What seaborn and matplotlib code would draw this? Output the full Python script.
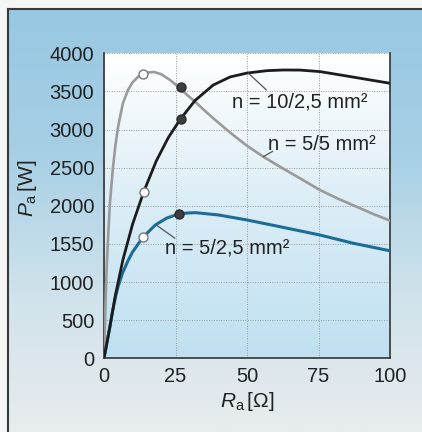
import numpy as np
import pandas as pd
import seaborn as sns
import matplotlib.pyplot as plt
from matplotlib.colors import LinearSegmentedColormap

# curve n = 5/5 mm2 (grey)
r_55 = [0, 0.5, 1, 2, 3, 4, 5, 6.6, 8.4, 10, 12, 13.6, 15.5, 17.5, 20, 23.1, 26.6, 29, 31.8, 35, 38.2,
        44.1, 49.9, 55.7, 61.5, 68.5, 75.5, 82, 88.3, 94, 100]
p_55 = [0, 700, 1250, 2000, 2450, 2800, 3050, 3344, 3519, 3620, 3695, 3725, 3748, 3755, 3725, 3650, 3541,
        3455, 3366, 3255, 3148, 2960, 2790, 2644, 2513, 2361, 2207, 2090, 1988, 1895, 1805]

# curve n = 10/2,5 mm2 (black)
r_10 = [0, 2, 4, 6.6, 10, 13.9, 18.3, 22.5, 26.7, 31.8, 38.2, 44.1, 49.9, 56.9, 62.6, 68.5, 75.5, 84.9, 92, 100]
p_10 = [0, 400, 830, 1290, 1760, 2185, 2590, 2895, 3136, 3380, 3584, 3690, 3740, 3772, 3781, 3780, 3760, 3702,
        3657, 3607]

# curve n = 5/2,5 mm2 (blue)
r_52 = [0, 2, 3, 4, 5, 6.5, 8.4, 10, 13.6, 18, 22, 26.2, 29, 32, 40, 50, 61.5, 75.5, 87, 100]
p_52 = [0, 400, 620, 800, 950, 1120, 1280, 1395, 1587, 1750, 1840, 1893, 1905, 1910, 1880, 1814, 1726, 1617,
        1510, 1410]

# marked operating points
open_r = [13.6, 13.9, 13.6]
open_p = [3725, 2185, 1587]
fill_r = [26.8, 26.8, 26.2]
fill_p = [3554, 3138, 1893]

x_ticks = [0, 25, 50, 75, 100]
y_ticks = [0, 500, 1000, 1500, 2000, 2500, 3000, 3500, 4000]
y_ticklabels = ["0", "500", "1000", "1550", "2000", "2500", "3000", "3500", "4000"]

labels = ["n = 10/2,5 mm²", "n = 5/5 mm²", "n = 5/2,5 mm²"]
label_pos = [(44.6, 3365), (57.4, 2810), (21.3, 1443)]
leaders = [((50.5, 3738), (56.8, 3519)), ((55.7, 2644), (59.0, 2715)), ((18.4, 1745), (24.8, 1574))]

sns.set_style("white")
plt.rcParams["font.family"] = ["Liberation Sans", "DejaVu Sans"]
plt.rcParams["mathtext.fontset"] = "custom"
plt.rcParams["mathtext.it"] = "Liberation Sans:italic"
plt.rcParams["mathtext.rm"] = "Liberation Sans"

W, H = 422, 432
fig = plt.figure(figsize=(W / 100, H / 100), dpi=100)
fig.patch.set_facecolor("#f4f6f6")

# page background with frame
bg = fig.add_axes([8 / W, 0, 1 - 8 / W, 1 - 9 / H], zorder=-10)
bg_cmap = LinearSegmentedColormap.from_list("bg", ["#e8ecee", "#cfe2eb", "#a6cfe5", "#98c8e2"])
grad = np.linspace(0, 1, 256).reshape(-1, 1)
bg.imshow(grad, cmap=bg_cmap, aspect="auto", origin="lower", extent=[0, 1, 0, 1])
bg.set_xticks([])
bg.set_yticks([])
for s in ["right", "bottom"]:
    bg.spines[s].set_visible(False)
for s in ["left", "top"]:
    bg.spines[s].set_color("#3a3a3a")
    bg.spines[s].set_linewidth(1.5)

ax = fig.add_axes([104 / W, 1 - 358.3 / H, 286 / W, 305 / H])
ax.set_facecolor("none")
pa_cmap = LinearSegmentedColormap.from_list("pa", ["#bfe0f1", "#dbedf6", "#ffffff"])
ax.imshow(grad, cmap=pa_cmap, aspect="auto", origin="lower", extent=[0, 100, 0, 4000], zorder=0)

df55 = pd.DataFrame({"R": r_55, "P": p_55})
df10 = pd.DataFrame({"R": r_10, "P": p_10})
df52 = pd.DataFrame({"R": r_52, "P": p_52})
sns.lineplot(data=df55, x="R", y="P", ax=ax, color="#9a9a9a", lw=1.9, sort=False, zorder=3)
sns.lineplot(data=df10, x="R", y="P", ax=ax, color="#1c1c1c", lw=2.0, sort=False, zorder=4)
sns.lineplot(data=df52, x="R", y="P", ax=ax, color="#1b6d97", lw=2.2, sort=False, zorder=3)

sns.scatterplot(x=open_r, y=open_p, ax=ax, s=42, color="white", edgecolor="#777777", linewidth=1, zorder=6)
sns.scatterplot(x=fill_r, y=fill_p, ax=ax, s=42, color="#3e3e3e", edgecolor="#2a2a2a", linewidth=1, zorder=6)

for txt, (tx, ty) in zip(labels, label_pos):
    ax.text(tx, ty, txt, fontsize=14.5, color="#222222", va="center", ha="left", zorder=7)
for (a, b) in leaders:
    ax.plot([a[0], b[0]], [a[1], b[1]], color="#555555", lw=0.9, zorder=5)

ax.set_xlim(0, 100)
ax.set_ylim(0, 4000)
ax.set_xticks(x_ticks)
ax.set_yticks(y_ticks)
ax.set_yticklabels(y_ticklabels)
ax.grid(True, color="#9a9a9a", linestyle=(0, (1, 1.5)), linewidth=0.7, zorder=1)
ax.set_axisbelow(True)
ax.tick_params(axis="both", labelsize=14.5, colors="#555555", length=3, width=1, direction="out")
ax.tick_params(axis="y", pad=4)
ax.tick_params(axis="x", pad=3)
for lab in ax.get_xticklabels() + ax.get_yticklabels():
    lab.set_color("#222222")
ax.spines["top"].set_visible(False)
for s in ["left", "bottom", "right"]:
    ax.spines[s].set_color("#333333")
    ax.spines[s].set_linewidth(1.2)

ax.set_xlabel(r"$R_{\rm a}\,$[$\Omega$]", fontsize=15, color="#222222")
ax.set_ylabel(r"$P_{\rm a}\,$[W]", fontsize=15, color="#222222")
ax.xaxis.label.set_va("center")
ax.yaxis.label.set_va("center")
ax.xaxis.set_label_coords(0.5, -0.142)
ax.yaxis.set_label_coords(-0.269, 0.558)

fig.savefig("out.png", dpi=100)
